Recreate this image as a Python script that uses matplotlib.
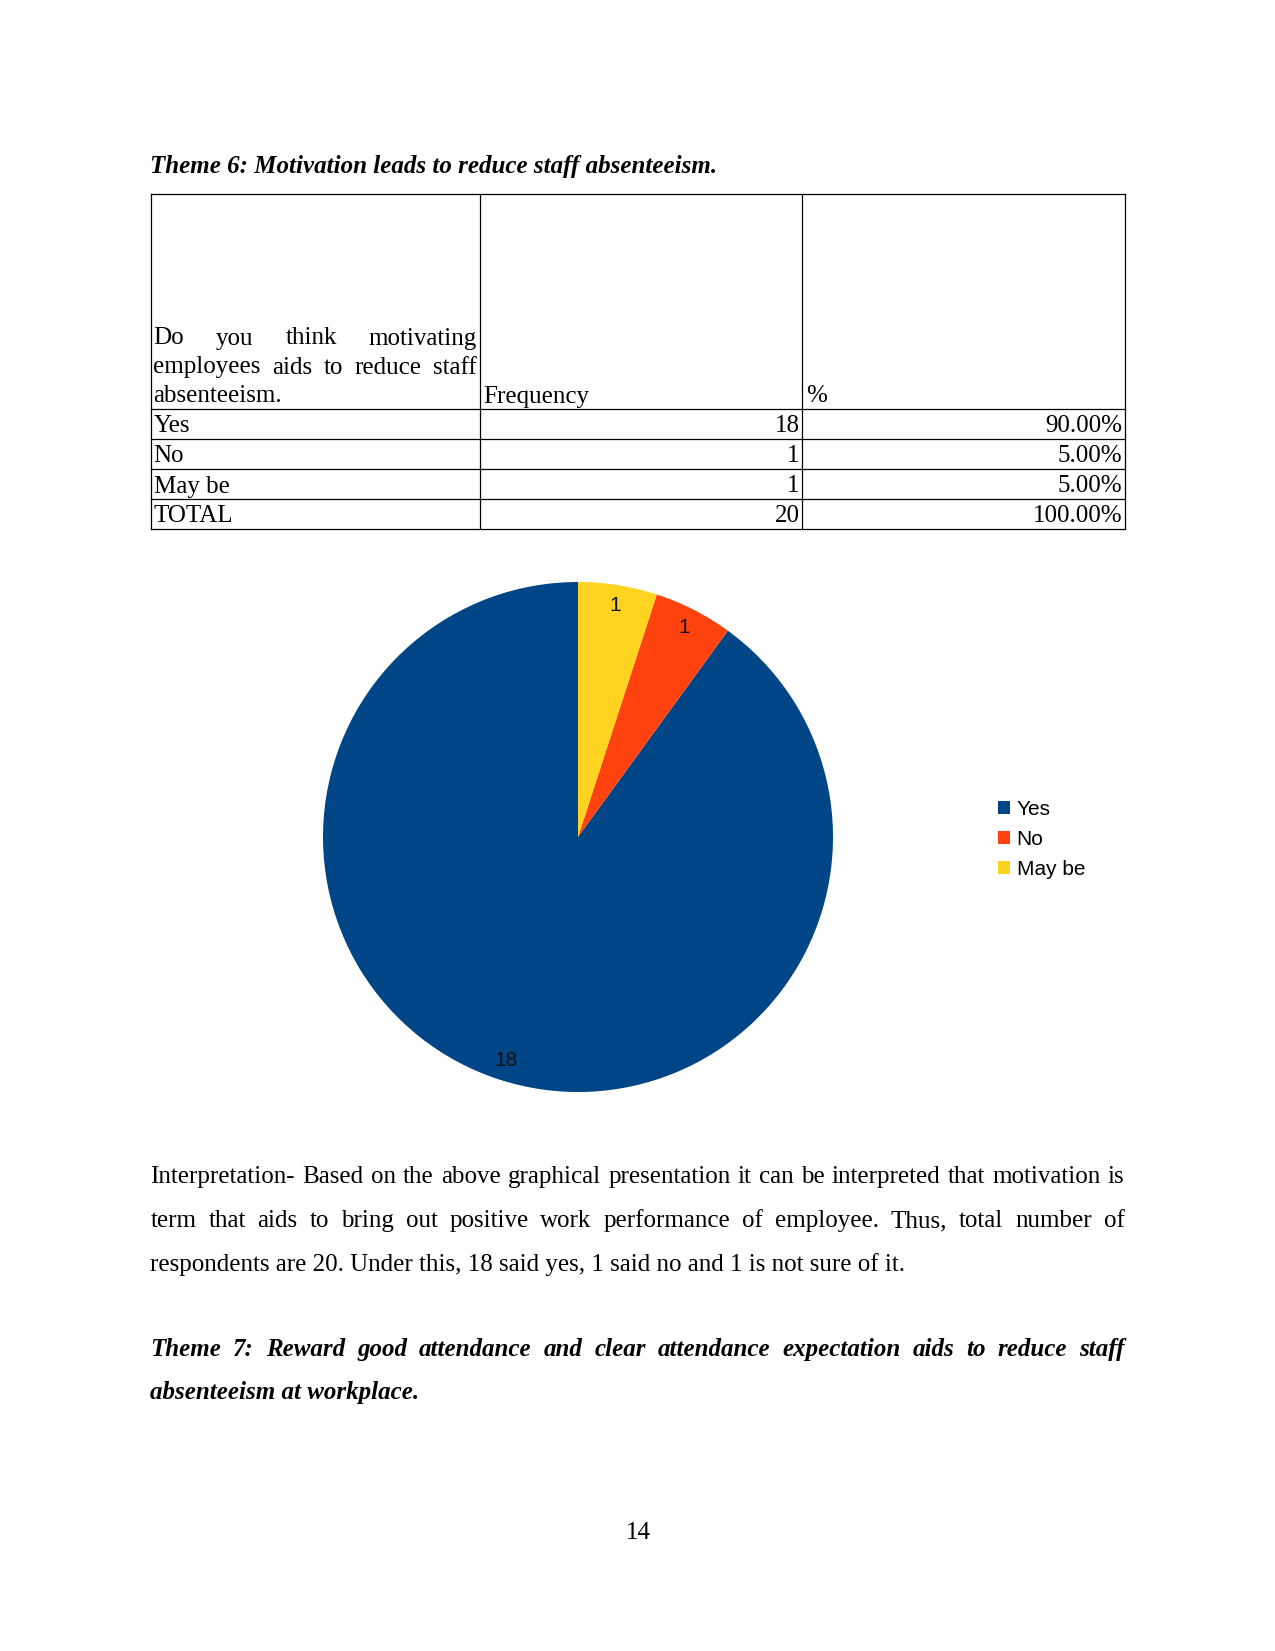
import numpy as np
import matplotlib.pyplot as plt
from matplotlib.patches import Patch

# data
categories = ['Yes', 'No', 'May be']
frequency = [18, 1, 1]
colors = ['#004586', '#ff420e', '#ffd320']
total = sum(frequency)
percent = [f / total * 100 for f in frequency]

title6 = 'Theme 6: Motivation leads to reduce staff absenteeism.'
question_lines = ['Do you think motivating', 'employees aids to reduce staff', 'absenteeism.']
body_lines = [
    'Interpretation- Based on the above graphical presentation it can be interpreted that motivation is',
    'term that aids to bring out positive work performance of employee. Thus, total number of',
    f'respondents are {total}. Under this, {frequency[0]} said yes, {frequency[1]} said no and '
    f'{frequency[2]} is not sure of it.',
]
title7_lines = ['Theme 7: Reward good attendance and clear attendance expectation aids to reduce staff',
                'absenteeism at workplace.']

W, H = 1275, 1651
fig = plt.figure(figsize=(W / 150, H / 150), dpi=150)
page = fig.add_axes([0, 0, 1, 1])
page.set_xlim(0, W)
page.set_ylim(H, 0)
page.axis('off')
renderer = fig.canvas.get_renderer()

serif = 'Liberation Serif'
sans = 'Liberation Sans'


def line(txt, x0, x1, y, justify=True, **kw):
    if not justify:
        page.text(x0, y, txt, va='baseline', ha='left', **kw)
        return
    words = txt.split()
    objs = [page.text(x0, y, w, va='baseline', ha='left', **kw) for w in words]
    widths = [o.get_window_extent(renderer).width for o in objs]
    gap = (x1 - x0 - sum(widths)) / (len(words) - 1)
    x = x0
    for o, w in zip(objs, widths):
        o.set_x(x)
        x += w + gap


left, right = 150.5, 1125

# heading
page.text(left, 173, title6, family=serif, fontsize=12, fontweight='bold', fontstyle='italic', va='baseline')

# table
col = [left, 480, 802, right]
top, head_bot, row_h = 193.5, 408.5, 30
rows = [(c, str(f), f'{p:.2f}%') for c, f, p in zip(categories, frequency, percent)]
rows.append(('TOTAL', str(total), f'{sum(percent):.2f}%'))
bottom = head_bot + row_h * len(rows)
lw = 0.6
for x in col:
    page.plot([x, x], [top, bottom], color='black', lw=lw)
page.plot([left, right], [top, top], color='black', lw=lw)
for i in range(len(rows) + 1):
    yy = head_bot + i * row_h
    page.plot([left, right], [yy, yy], color='black', lw=lw)

tkw = dict(family=serif, fontsize=12)
for i, ln in enumerate(question_lines):
    line(ln, 153.5, 477, 344.5 + i * 29, justify=(i < 2), **tkw)
page.text(483, 402.5, 'Frequency', va='baseline', **tkw)
page.text(806, 402.5, '%', va='baseline', **tkw)
for i, (c, f, p) in enumerate(rows):
    yb = head_bot + i * row_h + 24
    page.text(153.5, yb, c, va='baseline', **tkw)
    page.text(799.5, yb, f, va='baseline', ha='right', **tkw)
    page.text(1122, yb, p, va='baseline', ha='right', **tkw)

# pie chart
cx, cy, r = 578, 837, 255
pie_ax = fig.add_axes([(cx - r) / W, (H - cy - r) / H, 2 * r / W, 2 * r / H])
pie_ax.pie(frequency, colors=colors, startangle=90, counterclock=True, radius=1,
           autopct=lambda p: f'{round(p * total / 100):d}', pctdistance=0.92,
           textprops=dict(family=sans, fontsize=10, color='#111111'))
pie_ax.set_xlim(-1, 1)
pie_ax.set_ylim(-1, 1)
pie_ax.axis('off')

handles = [Patch(facecolor=c, edgecolor='none', label=l) for c, l in zip(colors, categories)]
fig.legend(handles=handles, loc='center left', bbox_to_anchor=(998 / W, 1 - 839.5 / H),
           frameon=False, borderpad=0, borderaxespad=0, handlelength=0.59, handleheight=0.59,
           handletextpad=0.3, labelspacing=0.52, prop=dict(family=sans, size=10))

# body text
for i, ln in enumerate(body_lines):
    line(ln, left, 1124.5, 1183 + i * 44, justify=(i < 2), **tkw)
bkw = dict(family=serif, fontsize=12, fontweight='bold', fontstyle='italic')
for i, ln in enumerate(title7_lines):
    line(ln, left, 1124.5, 1356 + i * 43.5, justify=(i < 1), **bkw)

page.text(638, 1539, '14', ha='center', va='baseline', **tkw)

fig.savefig('out.png', dpi=150)
